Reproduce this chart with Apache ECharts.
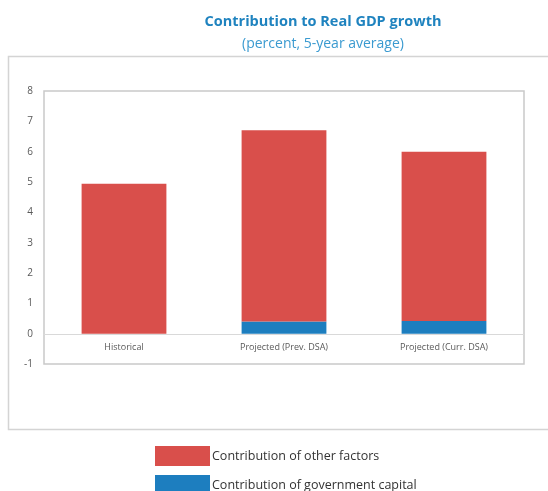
<!DOCTYPE html>
<html>
<head>
<meta charset="utf-8">
<script src="https://cdn.jsdelivr.net/npm/echarts@6/dist/echarts.min.js"></script>
<style>html,body{margin:0;padding:0;background:#fff;}#c{width:548px;height:491px;}</style>
</head>
<body>
<div id="c"></div>
<script>
var categories = ['Historical', 'Projected (Prev. DSA)', 'Projected (Curr. DSA)'];
var govCapital = [0, 0.40, 0.42];
var otherFactors = [4.94, 6.31, 5.58];
var seriesNames = ['Contribution of other factors', 'Contribution of government capital'];
var yTicks = {min: -1, max: 8, interval: 1};

var chart = echarts.init(document.getElementById('c'), null, {renderer: 'canvas'});
var font = "'Open Sans', 'Noto Sans', sans-serif";
var legendText = {fontFamily: font, fontSize: 12.5, color: '#333', padding: [0, 0, 0, -3]};
chart.setOption({
  animation: false,
  textStyle: {fontFamily: font},
  title: [
    {text: 'Contribution to Real GDP growth', left: 318, top: 9, textAlign: 'center',
     textStyle: {fontFamily: font, fontSize: 14.5, fontWeight: 'bold', color: '#1f83bf'}},
    {text: '(percent, 5-year average)', left: 318, top: 32, textAlign: 'center',
     textStyle: {fontFamily: font, fontSize: 14, fontWeight: 'normal', color: '#3a9ad0'}}
  ],
  graphic: [
    {type: 'rect', shape: {x: 8.5, y: 56.5, width: 560, height: 373},
     style: {fill: 'none', stroke: '#d4d4d4', lineWidth: 1.5}, silent: true, z: -1}
  ],
  legend: [
    {orient: 'vertical', left: 155, top: 446, padding: 0, itemWidth: 55, itemHeight: 20,
     data: [seriesNames[0]], icon: 'rect', selectedMode: false, textStyle: legendText},
    {orient: 'vertical', left: 155, top: 475, padding: 0, itemWidth: 55, itemHeight: 20,
     data: [seriesNames[1]], icon: 'rect', selectedMode: false, textStyle: legendText}
  ],
  grid: {left: 44, right: 24, top: 91, bottom: 127, show: true, borderColor: '#c9c9c9', borderWidth: 1.5, containLabel: false},
  xAxis: {
    type: 'category', data: categories, offset: -30,
    axisLine: {onZero: false, lineStyle: {color: '#d9d9d9', width: 1}},
    axisTick: {show: false},
    axisLabel: {fontFamily: font, fontSize: 9, color: '#595959', margin: 9}
  },
  yAxis: {
    type: 'value', min: yTicks.min, max: yTicks.max, interval: yTicks.interval,
    axisLine: {show: false}, axisTick: {show: false}, splitLine: {show: false},
    axisLabel: {fontFamily: font, fontSize: 10, color: '#595959', margin: 11}
  },
  series: [
    {name: seriesNames[1], type: 'bar', stack: 'total', data: govCapital, barWidth: '53%',
     itemStyle: {color: '#1d7ebf'}},
    {name: seriesNames[0], type: 'bar', stack: 'total', data: otherFactors, barWidth: '53%',
     itemStyle: {color: '#d94f4b'}}
  ]
});
</script>
</body>
</html>
